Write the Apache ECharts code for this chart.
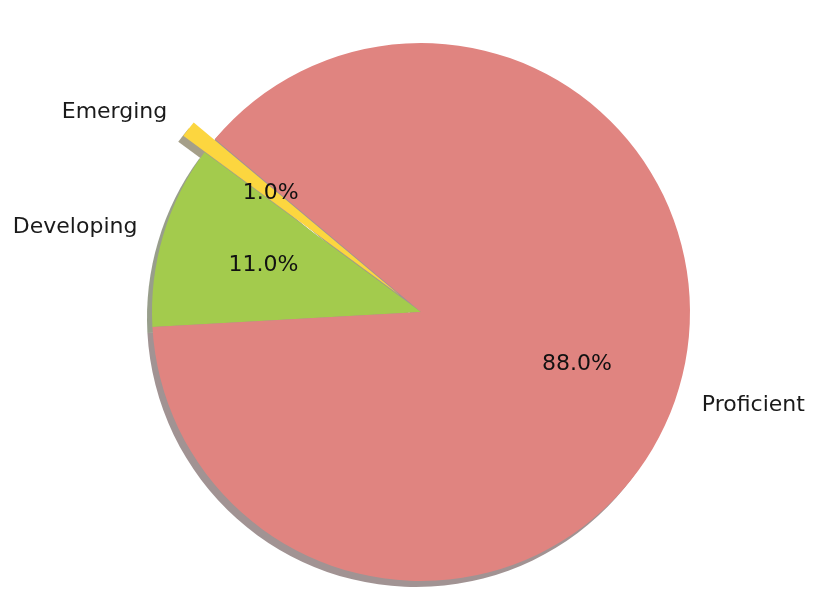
<!DOCTYPE html>
<html>
<head>
<meta charset="utf-8">
<script src="https://cdn.jsdelivr.net/npm/echarts@6/dist/echarts.min.js"></script>
<style>
  html, body { margin: 0; padding: 0; background: #fff; }
  #chart { width: 834px; height: 616px; }
</style>
</head>
<body>
<div id="chart"></div>
<script>
// Chart data
const levels = ['Emerging', 'Developing', 'Proficient'];
const shares = [1, 11, 88];
const exploded = [true, false, false];

const SLICE_COLORS = ['#FCD63F', '#A3CB4D', '#E08480'];
const SHADOW_COLORS = ['rgba(76,64,19,0.5)', 'rgba(49,61,23,0.5)', 'rgba(67,40,39,0.5)'];

const R = 269;
const CX = 421, CY = 312;
const EXPLODE = 27;
const FONT = 'DejaVu Sans';

const total = shares.reduce((a, b) => a + b, 0);

function pieBase(extra) {
  return Object.assign({
    type: 'pie',
    startAngle: 140,
    clockwise: false,
    center: [CX, CY],
    radius: [0, R],
    selectedMode: 'multiple',
    selectedOffset: EXPLODE,
    avoidLabelOverlap: false,
    silent: true,
    animation: false,
    emphasis: { disabled: true },
    select: { disabled: false }
  }, extra);
}

const chart = echarts.init(document.getElementById('chart'));
chart.setOption({
  backgroundColor: '#fff',
  series: [
    // shadow copy, shifted left/down
    pieBase({
      center: [CX - 5, CY + 6],
      label: { show: false },
      labelLine: { show: false },
      data: levels.map((n, i) => ({
        name: n, value: shares[i], selected: exploded[i],
        itemStyle: { color: SHADOW_COLORS[i], borderWidth: 0 },
        select: { itemStyle: { color: SHADOW_COLORS[i], borderWidth: 0 } }
      }))
    }),
    // wedges with outer names
    pieBase({
      label: {
        show: true,
        position: 'outside',
        formatter: '{b}',
        fontFamily: FONT,
        fontSize: 22,
        color: '#1a1a1a',
        distanceToLabelLine: 0
      },
      labelLine: { show: false, length: R * 0.1, length2: 0 },
      data: levels.map((n, i) => ({
        name: n, value: shares[i], selected: exploded[i],
        itemStyle: { color: SLICE_COLORS[i], borderWidth: 0 },
        select: { itemStyle: { color: SLICE_COLORS[i], borderWidth: 0 } }
      }))
    }),
    // transparent ring used only to place the percentages at 0.6 r
    pieBase({
      radius: [R * 0.4, R * 0.8],
      label: {
        show: true,
        position: 'inside',
        formatter: p => (p.value / total * 100).toFixed(1) + '%',
        fontFamily: FONT,
        fontSize: 22,
        color: '#111'
      },
      labelLine: { show: false },
      data: levels.map((n, i) => ({
        name: n, value: shares[i], selected: exploded[i],
        itemStyle: { color: 'rgba(0,0,0,0)', borderWidth: 0 },
        select: { itemStyle: { color: 'rgba(0,0,0,0)', borderWidth: 0 } }
      }))
    })
  ]
});
</script>
</body>
</html>
